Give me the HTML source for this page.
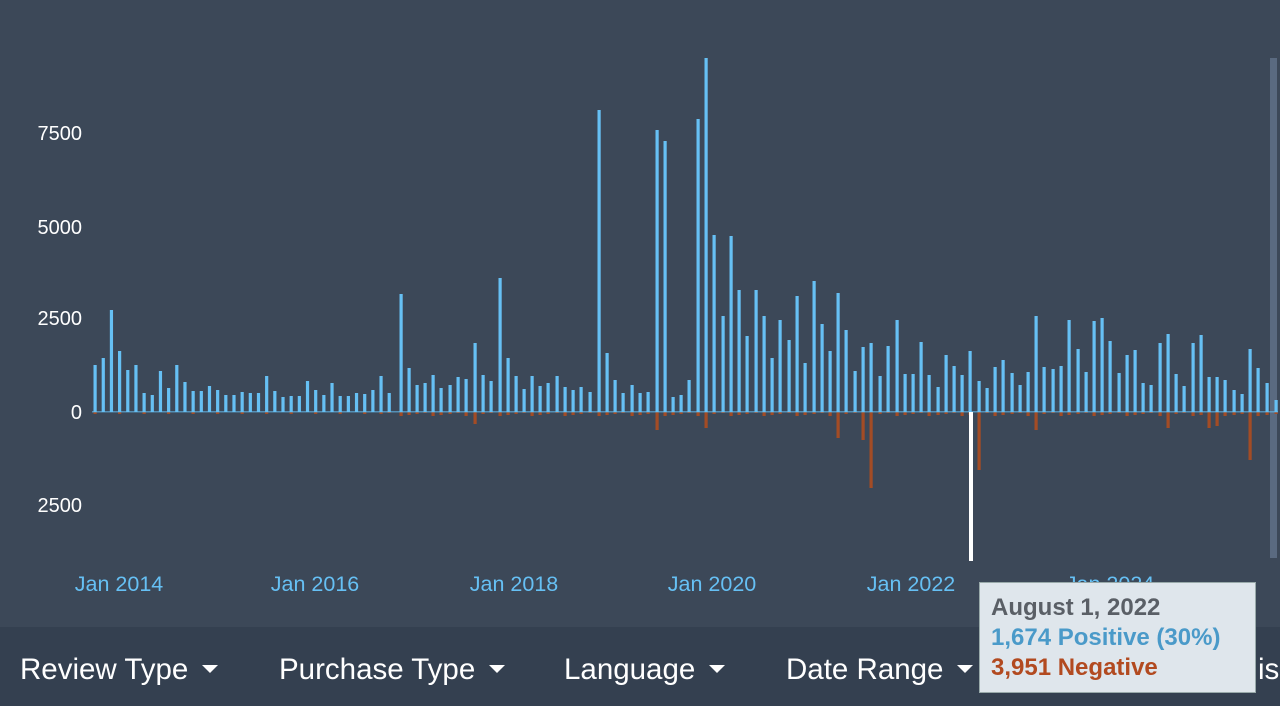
<!DOCTYPE html>
<html><head><meta charset="utf-8"><style>
html,body{margin:0;padding:0;width:1280px;height:706px;overflow:hidden;background:#3c4858;font-family:"Liberation Sans",sans-serif}
.bar{position:absolute;left:0;top:627px;width:1280px;height:79px;background:#344050}
.bar span{position:absolute;top:26px;font-size:29.5px;color:#fff}
.tri{display:inline-block;width:0;height:0;border-left:8px solid transparent;border-right:8px solid transparent;border-top:8px solid #fff;vertical-align:middle;margin-left:14px;margin-top:-4px}
.tip{position:absolute;left:979px;top:582px;width:277px;height:111px;background:#dfe6ec;border:1px solid #9aa;box-sizing:border-box;font-weight:bold;font-size:24px;line-height:30px;padding:10px 0 0 11px}
</style></head><body>
<svg id="c" width="1280" height="627" style="position:absolute;left:0;top:0" font-family="Liberation Sans, sans-serif">
<g font-size="20" fill="#fff" text-anchor="end">
<text x="82" y="140">7500</text><text x="82" y="234">5000</text><text x="82" y="325">2500</text><text x="82" y="419">0</text><text x="82" y="512">2500</text>
</g>
<g font-size="21.5" fill="#66c0f4" text-anchor="middle">
<text x="119" y="591">Jan 2014</text><text x="315" y="591">Jan 2016</text><text x="514" y="591">Jan 2018</text><text x="712" y="591">Jan 2020</text><text x="911" y="591">Jan 2022</text><text x="1110" y="591">Jan 2024</text>
</g>
<rect x="1270" y="58" width="7" height="500" fill="#5a6a80"/>
<g id="bars"></g>
<rect x="969" y="412" width="4" height="149" fill="#fff"/>
</svg>
<div class="bar">
<span style="left:20px">Review Type<i class="tri"></i></span>
<span style="left:279px">Purchase Type<i class="tri"></i></span>
<span style="left:564px">Language<i class="tri"></i></span>
<span style="left:786px">Date Range<i class="tri"></i></span>
<span style="left:1258px">is</span>
</div>
<div class="tip"><div style="color:#5a5f66">August 1, 2022</div><div style="color:#4a9ac9">1,674 Positive (30%)</div><div style="color:#b24a20">3,951 Negative</div></div>
<script>
var left=[365,358,310,351,370,365,393,395,371,388,365,382,391,391,386,390,395,395,392,393,393,376,391,397,396,396,381,390,395,383,396,396,393,394,390,376,393];
var pts=[];for(var i=0;i<left.length;i++)pts.push([95+8.17*i,left[i]]);
var r=[[401,294],[409,368],[417,385],[425,383],[433,375],[441,388],[450,385],[458,377],[466,379],[475,343],[483,375],[491,381],[500,278],[508,358],[516,376],[524,389],[532,376],[540,386],[548,383],[557,376],[565,387],[573,390],[581,387],[590,392],[599,110],[607,353],[615,380],[623,393],[632,385],[640,393],[648,392],[657,130],[665,141],[673,397],[681,395],[689,380],[698,119],[706,58],[714,235],[723,316],[731,236],[739,290],[747,336],[756,290],[764,316],[772,358],[780,320],[789,340],[797,296],[805,363],[814,281],[822,324],[830,351],[838,293],[846,330],[855,371],[863,347],[871,343],[880,376],[888,346],[897,320],[905,374],[913,374],[921,342],[929,375],[938,387],[946,355],[954,366],[962,375],[970,351],[979,381],[987,388],[995,367],[1003,360],[1012,373],[1020,385],[1028,372],[1036,316],[1044,367],[1053,369],[1061,366],[1069,320],[1078,349],[1086,372],[1094,321],[1102,318],[1110,341],[1119,373],[1127,355],[1135,350],[1143,383],[1151,385],[1160,343],[1168,334],[1176,374],[1184,386],[1193,343],[1201,335],[1209,377],[1217,377],[1225,380],[1234,390],[1242,394],[1250,349],[1258,368],[1267,383],[1276,400]];
pts=pts.concat(r);
var neg={872:488,979:470,1251:460,864:440,656:430,838:438,706:428,1036:430,1168:428,1209:428,1217:426,475:424};
var s='';
pts.forEach(function(p,k){var x=p[0];s+='<rect x="'+(x-1.5)+'" y="'+p[1]+'" width="3.2" height="'+(412-p[1])+'" fill="#66c0f4"/>';
var n=413+((k*7)%4);for(var key in neg){if(Math.abs(key-x)<3)n=neg[key];}
if(x>380)s+='<rect x="'+(x-1.5)+'" y="412" width="3.2" height="'+(n-412)+'" fill="#a34c25"/>';
else if(k%3==0)s+='<rect x="'+(x-1.5)+'" y="412" width="3.2" height="2" fill="#a34c25"/>';});
s+='<rect x="92" y="411" width="1186" height="1.5" fill="#66c0f4" opacity="0.6"/>';
document.getElementById('bars').innerHTML=s;
</script>
</body></html>
